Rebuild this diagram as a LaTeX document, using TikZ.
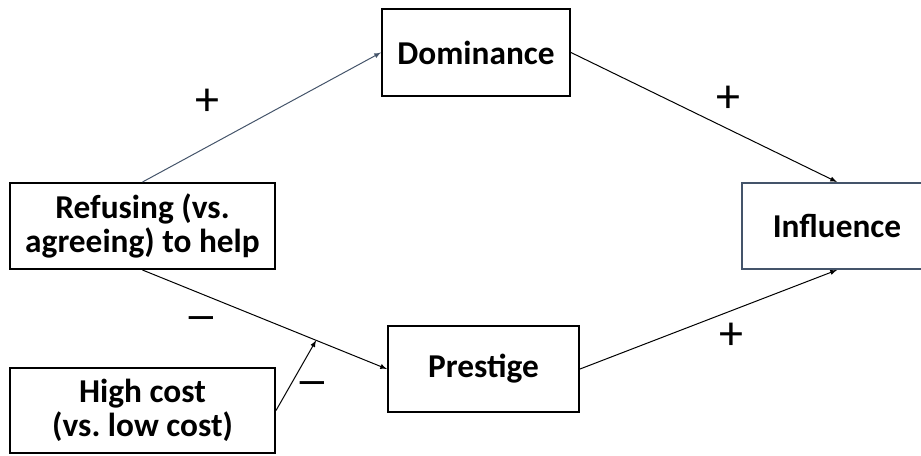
\documentclass[tikz,border=0pt]{standalone}
\usepackage{fontspec}
\setmainfont{Carlito}
\usepackage{xcolor}
\definecolor{slate}{HTML}{44546A}
\frenchspacing

\tikzset{
  varbox/.style={draw=black, line width=1.5pt, align=center, inner sep=0.75pt,
    font=\fontsize{25}{25.5}\selectfont\bfseries},
  path/.style={draw=black, line width=0.75pt, -latex},
  sign/.style={inner sep=0.75pt, font=\fontsize{36}{38}\selectfont},
  minus/.style={inner sep=0.75pt, font=\fontsize{25}{26}\selectfont\bfseries}
}

\begin{document}
\begin{tikzpicture}[x=0.75pt,y=0.75pt,yscale=-1,xscale=1]
        \useasboundingbox (0,0) rectangle (921,455);

        % Boxes
        \node [varbox, minimum width=198.75pt, minimum height=64.5pt] (refuse) at (142.5,226) {Refusing (vs.\\agreeing) to help};
        \node [varbox, minimum width=198.75pt, minimum height=63.75pt] (cost) at (142.5,410.5) {High cost\\(vs. low cost)};
        \node [varbox, minimum width=141pt, minimum height=65.25pt] (dom) at (476,52.5) {Dominance};
        \node [varbox, minimum width=143.25pt, minimum height=64.5pt] (prest) at (483.5,369) {Prestige};
        \node [varbox, draw=slate, minimum width=142.5pt, minimum height=64.5pt] (infl) at (837,226) {Influence};

        % Paths
        \draw [path, draw=slate] (refuse.north) -- (dom.west);
        \draw [path] (dom.east) -- (infl.north);
        \draw [path] (refuse.south) -- (prest.west) coordinate [pos=0.71] (mod);
        \draw [path] (prest.east) -- (infl.south);
        \draw [path] (cost.east) -- (mod);

        % Text Node
        \node [sign] (p1) at (207,102) {+};
        \node [sign] (p2) at (728,99) {+};
        \node [sign] (p3) at (731,336) {+};
        \node [minus] (m1) at (201,322) {\textemdash};
        \node [minus] (m2) at (312,387) {\textemdash};

\end{tikzpicture}
\end{document}
